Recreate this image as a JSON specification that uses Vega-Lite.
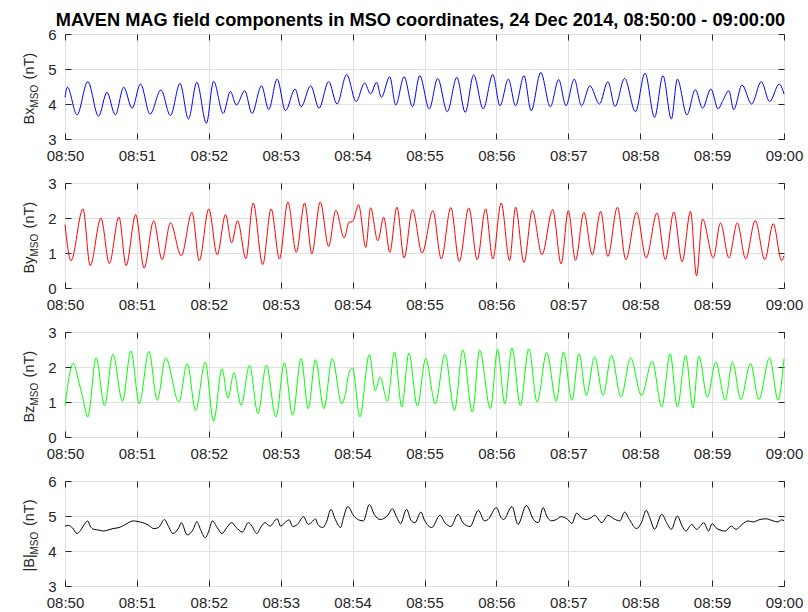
{
  "$schema": "https://vega.github.io/schema/vega-lite/v6.json",
  "background": "#ffffff",
  "padding": {"left": 20, "top": 10, "right": 0, "bottom": 0},
  "spacing": 44,
  "bounds": "flush",
  "config": {
    "font": "Liberation Sans",
    "view": {"stroke": "#262626", "strokeWidth": 1},
    "axis": {
      "labelFont": "Liberation Sans", "labelFontSize": 15, "labelColor": "#262626",
      "titleFont": "Liberation Sans", "titleFontSize": 14.5, "titleFontWeight": "normal", "titleColor": "#262626",
      "tickColor": "#262626", "tickSize": -6, "tickWidth": 1, "labelPadding": 15,
      "gridColor": "#e0e0e0", "gridWidth": 1, "domain": false
    }
  },
  "vconcat": [
    {
      "width": 719, "height": 105,
      "title": {"text": "MAVEN MAG field components in MSO coordinates, 24 Dec 2014, 08:50:00 - 09:00:00", "font": "Liberation Sans", "fontSize": 18.2, "fontWeight": "bold", "color": "#000000", "anchor": "middle", "offset": -3, "dx": -4},
      "layer": [
        {
          "data": {"values": [{"at": "2014-12-24T08:55:00"}]},
          "mark": {"type": "rule", "opacity": 0},
          "encoding": {"x": {"field": "at", "type": "temporal", "scale": {"nice": false}, "axis": {"orient": "top", "labels": false, "grid": false, "title": null, "tickCount": 10}}}
        },
        {
          "data": {"values": [{"level": 4}]},
          "mark": {"type": "rule", "opacity": 0},
          "encoding": {"y": {"field": "level", "type": "quantitative", "scale": {"domain": [3, 6], "nice": false, "zero": false}, "axis": {"orient": "right", "labels": false, "grid": false, "title": null, "values": [3, 4, 5, 6]}}}
        },
        {
          "data": {"values": [{"level": 5}]},
          "mark": {"type": "rule", "opacity": 0},
          "encoding": {"y": {"field": "level", "type": "quantitative", "scale": {"domain": [3, 6], "nice": false, "zero": false}, "axis": {"orient": "left", "labels": false, "ticks": false, "grid": false, "title": "MSO", "titleFontSize": 10, "titleAlign": "left", "titleBaseline": "alphabetic", "titleX": -28, "titleY": 73}}}
        },
        {
          "data": {"values": [
            {"t": "2014-12-24T08:50:00", "v": 4.19}, {"t": "2014-12-24T08:50:02", "v": 4.48}, {"t": "2014-12-24T08:50:10", "v": 3.69}, {"t": "2014-12-24T08:50:19", "v": 4.64},
            {"t": "2014-12-24T08:50:28", "v": 3.65}, {"t": "2014-12-24T08:50:35", "v": 4.33}, {"t": "2014-12-24T08:50:42", "v": 3.69}, {"t": "2014-12-24T08:50:49", "v": 4.48},
            {"t": "2014-12-24T08:50:56", "v": 3.88}, {"t": "2014-12-24T08:51:03", "v": 4.57}, {"t": "2014-12-24T08:51:11", "v": 3.71}, {"t": "2014-12-24T08:51:20", "v": 4.40},
            {"t": "2014-12-24T08:51:28", "v": 3.67}, {"t": "2014-12-24T08:51:36", "v": 4.59}, {"t": "2014-12-24T08:51:43", "v": 3.57}, {"t": "2014-12-24T08:51:50", "v": 4.62},
            {"t": "2014-12-24T08:51:58", "v": 3.45}, {"t": "2014-12-24T08:52:04", "v": 4.65}, {"t": "2014-12-24T08:52:12", "v": 3.73}, {"t": "2014-12-24T08:52:18", "v": 4.36},
            {"t": "2014-12-24T08:52:23", "v": 3.97}, {"t": "2014-12-24T08:52:30", "v": 4.38}, {"t": "2014-12-24T08:52:36", "v": 3.73}, {"t": "2014-12-24T08:52:44", "v": 4.52},
            {"t": "2014-12-24T08:52:50", "v": 3.84}, {"t": "2014-12-24T08:52:57", "v": 4.71}, {"t": "2014-12-24T08:53:04", "v": 3.81}, {"t": "2014-12-24T08:53:12", "v": 4.43},
            {"t": "2014-12-24T08:53:17", "v": 3.92}, {"t": "2014-12-24T08:53:25", "v": 4.52}, {"t": "2014-12-24T08:53:32", "v": 3.88}, {"t": "2014-12-24T08:53:40", "v": 4.64},
            {"t": "2014-12-24T08:53:47", "v": 4.00}, {"t": "2014-12-24T08:53:55", "v": 4.84}, {"t": "2014-12-24T08:54:03", "v": 4.07}, {"t": "2014-12-24T08:54:10", "v": 4.60},
            {"t": "2014-12-24T08:54:15", "v": 4.29}, {"t": "2014-12-24T08:54:20", "v": 4.62}, {"t": "2014-12-24T08:54:24", "v": 4.19}, {"t": "2014-12-24T08:54:31", "v": 4.78},
            {"t": "2014-12-24T08:54:36", "v": 3.97}, {"t": "2014-12-24T08:54:43", "v": 4.78}, {"t": "2014-12-24T08:54:50", "v": 3.92}, {"t": "2014-12-24T08:54:56", "v": 4.81},
            {"t": "2014-12-24T08:55:04", "v": 3.86}, {"t": "2014-12-24T08:55:11", "v": 4.73}, {"t": "2014-12-24T08:55:19", "v": 3.78}, {"t": "2014-12-24T08:55:27", "v": 4.76},
            {"t": "2014-12-24T08:55:34", "v": 3.76}, {"t": "2014-12-24T08:55:41", "v": 4.83}, {"t": "2014-12-24T08:55:49", "v": 3.86}, {"t": "2014-12-24T08:55:57", "v": 4.84},
            {"t": "2014-12-24T08:56:03", "v": 3.95}, {"t": "2014-12-24T08:56:10", "v": 4.71}, {"t": "2014-12-24T08:56:16", "v": 3.95}, {"t": "2014-12-24T08:56:23", "v": 4.81},
            {"t": "2014-12-24T08:56:29", "v": 3.81}, {"t": "2014-12-24T08:56:37", "v": 4.90}, {"t": "2014-12-24T08:56:45", "v": 3.92}, {"t": "2014-12-24T08:56:52", "v": 4.70},
            {"t": "2014-12-24T08:56:58", "v": 3.95}, {"t": "2014-12-24T08:57:05", "v": 4.71}, {"t": "2014-12-24T08:57:11", "v": 3.95}, {"t": "2014-12-24T08:57:18", "v": 4.52},
            {"t": "2014-12-24T08:57:26", "v": 4.00}, {"t": "2014-12-24T08:57:33", "v": 4.64}, {"t": "2014-12-24T08:57:39", "v": 3.93}, {"t": "2014-12-24T08:57:47", "v": 4.73},
            {"t": "2014-12-24T08:57:56", "v": 3.78}, {"t": "2014-12-24T08:58:04", "v": 4.88}, {"t": "2014-12-24T08:58:12", "v": 3.62}, {"t": "2014-12-24T08:58:19", "v": 4.81},
            {"t": "2014-12-24T08:58:26", "v": 3.57}, {"t": "2014-12-24T08:58:31", "v": 4.71}, {"t": "2014-12-24T08:58:39", "v": 3.69}, {"t": "2014-12-24T08:58:46", "v": 4.41},
            {"t": "2014-12-24T08:58:52", "v": 3.88}, {"t": "2014-12-24T08:58:59", "v": 4.43}, {"t": "2014-12-24T08:59:05", "v": 3.86}, {"t": "2014-12-24T08:59:09", "v": 4.10},
            {"t": "2014-12-24T08:59:14", "v": 4.38}, {"t": "2014-12-24T08:59:18", "v": 3.84}, {"t": "2014-12-24T08:59:25", "v": 4.54}, {"t": "2014-12-24T08:59:33", "v": 4.00},
            {"t": "2014-12-24T08:59:41", "v": 4.64}, {"t": "2014-12-24T08:59:48", "v": 4.07}, {"t": "2014-12-24T08:59:56", "v": 4.57}, {"t": "2014-12-24T09:00:00", "v": 4.29}
          ]},
          "mark": {"type": "line", "color": "#0000ff", "strokeWidth": 1, "interpolate": "monotone"},
          "encoding": {
            "x": {"field": "t", "type": "temporal", "scale": {"nice": false}, "axis": {"orient": "bottom", "title": null, "format": "%H:%M", "tickCount": 10, "labelFlush": false, "labelOverlap": false, "grid": true}},
            "y": {"field": "v", "type": "quantitative", "scale": {"domain": [3, 6], "nice": false, "zero": false}, "axis": {"orient": "left", "values": [3, 4, 5, 6], "grid": true, "title": "Bx\u00a0\u00a0\u00a0\u00a0\u00a0\u00a0\u00a0(nT)", "titleAlign": "left", "titleBaseline": "alphabetic", "titleX": -32, "titleY": 90}}
          }
        }
      ],
      "resolve": {"axis": {"x": "independent", "y": "independent"}}
    },
    {
      "width": 719, "height": 105,
      "layer": [
        {
          "data": {"values": [{"at": "2014-12-24T08:55:00"}]},
          "mark": {"type": "rule", "opacity": 0},
          "encoding": {"x": {"field": "at", "type": "temporal", "scale": {"nice": false}, "axis": {"orient": "top", "labels": false, "grid": false, "title": null, "tickCount": 10}}}
        },
        {
          "data": {"values": [{"level": 1}]},
          "mark": {"type": "rule", "opacity": 0},
          "encoding": {"y": {"field": "level", "type": "quantitative", "scale": {"domain": [0, 3], "nice": false}, "axis": {"orient": "right", "labels": false, "grid": false, "title": null, "values": [0, 1, 2, 3]}}}
        },
        {
          "data": {"values": [{"level": 2}]},
          "mark": {"type": "rule", "opacity": 0},
          "encoding": {"y": {"field": "level", "type": "quantitative", "scale": {"domain": [0, 3], "nice": false}, "axis": {"orient": "left", "labels": false, "ticks": false, "grid": false, "title": "MSO", "titleFontSize": 10, "titleAlign": "left", "titleBaseline": "alphabetic", "titleX": -28, "titleY": 73}}}
        },
        {
          "data": {"values": [
            {"t": "2014-12-24T08:50:00", "v": 1.81}, {"t": "2014-12-24T08:50:05", "v": 0.78}, {"t": "2014-12-24T08:50:15", "v": 2.26}, {"t": "2014-12-24T08:50:21", "v": 0.64},
            {"t": "2014-12-24T08:50:30", "v": 2.00}, {"t": "2014-12-24T08:50:37", "v": 0.70}, {"t": "2014-12-24T08:50:45", "v": 2.03}, {"t": "2014-12-24T08:50:51", "v": 0.64},
            {"t": "2014-12-24T08:50:59", "v": 2.10}, {"t": "2014-12-24T08:51:06", "v": 0.57}, {"t": "2014-12-24T08:51:14", "v": 1.92}, {"t": "2014-12-24T08:51:21", "v": 0.81},
            {"t": "2014-12-24T08:51:28", "v": 1.86}, {"t": "2014-12-24T08:51:37", "v": 0.92}, {"t": "2014-12-24T08:51:46", "v": 2.16}, {"t": "2014-12-24T08:51:52", "v": 0.78},
            {"t": "2014-12-24T08:52:00", "v": 2.26}, {"t": "2014-12-24T08:52:07", "v": 0.95}, {"t": "2014-12-24T08:52:14", "v": 2.10}, {"t": "2014-12-24T08:52:19", "v": 1.29},
            {"t": "2014-12-24T08:52:24", "v": 1.92}, {"t": "2014-12-24T08:52:31", "v": 0.84}, {"t": "2014-12-24T08:52:37", "v": 2.43}, {"t": "2014-12-24T08:52:45", "v": 0.67},
            {"t": "2014-12-24T08:52:52", "v": 2.26}, {"t": "2014-12-24T08:52:59", "v": 0.83}, {"t": "2014-12-24T08:53:06", "v": 2.46}, {"t": "2014-12-24T08:53:13", "v": 1.02},
            {"t": "2014-12-24T08:53:20", "v": 2.43}, {"t": "2014-12-24T08:53:26", "v": 0.98}, {"t": "2014-12-24T08:53:33", "v": 2.46}, {"t": "2014-12-24T08:53:40", "v": 1.19},
            {"t": "2014-12-24T08:53:46", "v": 2.22}, {"t": "2014-12-24T08:53:53", "v": 1.43}, {"t": "2014-12-24T08:53:57", "v": 1.88}, {"t": "2014-12-24T08:54:00", "v": 1.90},
            {"t": "2014-12-24T08:54:05", "v": 2.38}, {"t": "2014-12-24T08:54:11", "v": 1.16}, {"t": "2014-12-24T08:54:15", "v": 2.29}, {"t": "2014-12-24T08:54:21", "v": 1.35},
            {"t": "2014-12-24T08:54:26", "v": 2.02}, {"t": "2014-12-24T08:54:31", "v": 1.02}, {"t": "2014-12-24T08:54:37", "v": 2.31}, {"t": "2014-12-24T08:54:43", "v": 0.86},
            {"t": "2014-12-24T08:54:50", "v": 2.24}, {"t": "2014-12-24T08:54:58", "v": 1.00}, {"t": "2014-12-24T08:55:07", "v": 2.21}, {"t": "2014-12-24T08:55:14", "v": 0.83},
            {"t": "2014-12-24T08:55:22", "v": 2.30}, {"t": "2014-12-24T08:55:29", "v": 0.76}, {"t": "2014-12-24T08:55:37", "v": 2.29}, {"t": "2014-12-24T08:55:44", "v": 0.81},
            {"t": "2014-12-24T08:55:51", "v": 2.26}, {"t": "2014-12-24T08:55:57", "v": 0.83}, {"t": "2014-12-24T08:56:04", "v": 2.43}, {"t": "2014-12-24T08:56:11", "v": 0.78},
            {"t": "2014-12-24T08:56:16", "v": 2.31}, {"t": "2014-12-24T08:56:23", "v": 0.73}, {"t": "2014-12-24T08:56:30", "v": 2.22}, {"t": "2014-12-24T08:56:38", "v": 0.95},
            {"t": "2014-12-24T08:56:47", "v": 2.24}, {"t": "2014-12-24T08:56:54", "v": 0.69}, {"t": "2014-12-24T08:57:00", "v": 2.21}, {"t": "2014-12-24T08:57:06", "v": 0.79},
            {"t": "2014-12-24T08:57:13", "v": 2.16}, {"t": "2014-12-24T08:57:20", "v": 0.95}, {"t": "2014-12-24T08:57:27", "v": 2.19}, {"t": "2014-12-24T08:57:33", "v": 0.90},
            {"t": "2014-12-24T08:57:41", "v": 2.31}, {"t": "2014-12-24T08:57:48", "v": 0.81}, {"t": "2014-12-24T08:57:57", "v": 2.16}, {"t": "2014-12-24T08:58:05", "v": 0.86},
            {"t": "2014-12-24T08:58:14", "v": 2.14}, {"t": "2014-12-24T08:58:21", "v": 0.81}, {"t": "2014-12-24T08:58:28", "v": 2.17}, {"t": "2014-12-24T08:58:35", "v": 0.75},
            {"t": "2014-12-24T08:58:42", "v": 2.19}, {"t": "2014-12-24T08:58:47", "v": 0.35}, {"t": "2014-12-24T08:58:52", "v": 1.97}, {"t": "2014-12-24T08:59:01", "v": 0.86},
            {"t": "2014-12-24T08:59:07", "v": 1.86}, {"t": "2014-12-24T08:59:14", "v": 0.86}, {"t": "2014-12-24T08:59:21", "v": 1.86}, {"t": "2014-12-24T08:59:28", "v": 0.83},
            {"t": "2014-12-24T08:59:36", "v": 1.93}, {"t": "2014-12-24T08:59:44", "v": 0.81}, {"t": "2014-12-24T08:59:51", "v": 1.84}, {"t": "2014-12-24T08:59:58", "v": 0.78},
            {"t": "2014-12-24T09:00:00", "v": 0.92}
          ]},
          "mark": {"type": "line", "color": "#ff0000", "strokeWidth": 1, "interpolate": "monotone"},
          "encoding": {
            "x": {"field": "t", "type": "temporal", "scale": {"nice": false}, "axis": {"orient": "bottom", "title": null, "format": "%H:%M", "tickCount": 10, "labelFlush": false, "labelOverlap": false, "grid": true}},
            "y": {"field": "v", "type": "quantitative", "scale": {"domain": [0, 3], "nice": false}, "axis": {"orient": "left", "values": [0, 1, 2, 3], "grid": true, "title": "By\u00a0\u00a0\u00a0\u00a0\u00a0\u00a0\u00a0(nT)", "titleAlign": "left", "titleBaseline": "alphabetic", "titleX": -32, "titleY": 90}}
          }
        }
      ],
      "resolve": {"axis": {"x": "independent", "y": "independent"}}
    },
    {
      "width": 719, "height": 105,
      "layer": [
        {
          "data": {"values": [{"at": "2014-12-24T08:55:00"}]},
          "mark": {"type": "rule", "opacity": 0},
          "encoding": {"x": {"field": "at", "type": "temporal", "scale": {"nice": false}, "axis": {"orient": "top", "labels": false, "grid": false, "title": null, "tickCount": 10}}}
        },
        {
          "data": {"values": [{"level": 1}]},
          "mark": {"type": "rule", "opacity": 0},
          "encoding": {"y": {"field": "level", "type": "quantitative", "scale": {"domain": [0, 3], "nice": false}, "axis": {"orient": "right", "labels": false, "grid": false, "title": null, "values": [0, 1, 2, 3]}}}
        },
        {
          "data": {"values": [{"level": 2}]},
          "mark": {"type": "rule", "opacity": 0},
          "encoding": {"y": {"field": "level", "type": "quantitative", "scale": {"domain": [0, 3], "nice": false}, "axis": {"orient": "left", "labels": false, "ticks": false, "grid": false, "title": "MSO", "titleFontSize": 10, "titleAlign": "left", "titleBaseline": "alphabetic", "titleX": -28, "titleY": 73}}}
        },
        {
          "data": {"values": [
            {"t": "2014-12-24T08:50:00", "v": 0.89}, {"t": "2014-12-24T08:50:07", "v": 2.11}, {"t": "2014-12-24T08:50:11", "v": 1.65}, {"t": "2014-12-24T08:50:15", "v": 1.10},
            {"t": "2014-12-24T08:50:19", "v": 0.57}, {"t": "2014-12-24T08:50:26", "v": 2.26}, {"t": "2014-12-24T08:50:33", "v": 0.90}, {"t": "2014-12-24T08:50:40", "v": 2.36},
            {"t": "2014-12-24T08:50:48", "v": 1.02}, {"t": "2014-12-24T08:50:55", "v": 2.46}, {"t": "2014-12-24T08:51:02", "v": 0.95}, {"t": "2014-12-24T08:51:10", "v": 2.45},
            {"t": "2014-12-24T08:51:17", "v": 1.05}, {"t": "2014-12-24T08:51:24", "v": 2.26}, {"t": "2014-12-24T08:51:35", "v": 1.00}, {"t": "2014-12-24T08:51:42", "v": 2.10},
            {"t": "2014-12-24T08:51:49", "v": 0.76}, {"t": "2014-12-24T08:51:57", "v": 2.14}, {"t": "2014-12-24T08:52:04", "v": 0.45}, {"t": "2014-12-24T08:52:11", "v": 1.95},
            {"t": "2014-12-24T08:52:16", "v": 1.11}, {"t": "2014-12-24T08:52:21", "v": 1.83}, {"t": "2014-12-24T08:52:27", "v": 0.90}, {"t": "2014-12-24T08:52:34", "v": 2.05},
            {"t": "2014-12-24T08:52:41", "v": 0.67}, {"t": "2014-12-24T08:52:48", "v": 2.05}, {"t": "2014-12-24T08:52:56", "v": 0.57}, {"t": "2014-12-24T08:53:03", "v": 2.12},
            {"t": "2014-12-24T08:53:10", "v": 0.62}, {"t": "2014-12-24T08:53:17", "v": 2.24}, {"t": "2014-12-24T08:53:23", "v": 0.81}, {"t": "2014-12-24T08:53:29", "v": 2.21},
            {"t": "2014-12-24T08:53:36", "v": 0.81}, {"t": "2014-12-24T08:53:43", "v": 2.24}, {"t": "2014-12-24T08:53:51", "v": 0.95}, {"t": "2014-12-24T08:53:54", "v": 1.24},
            {"t": "2014-12-24T08:53:57", "v": 1.84}, {"t": "2014-12-24T08:54:00", "v": 1.97}, {"t": "2014-12-24T08:54:06", "v": 0.57}, {"t": "2014-12-24T08:54:14", "v": 2.36},
            {"t": "2014-12-24T08:54:19", "v": 1.33}, {"t": "2014-12-24T08:54:23", "v": 1.71}, {"t": "2014-12-24T08:54:29", "v": 1.02}, {"t": "2014-12-24T08:54:35", "v": 2.43},
            {"t": "2014-12-24T08:54:41", "v": 0.86}, {"t": "2014-12-24T08:54:47", "v": 2.40}, {"t": "2014-12-24T08:54:54", "v": 0.88}, {"t": "2014-12-24T08:55:01", "v": 2.24},
            {"t": "2014-12-24T08:55:09", "v": 0.95}, {"t": "2014-12-24T08:55:17", "v": 2.36}, {"t": "2014-12-24T08:55:25", "v": 0.76}, {"t": "2014-12-24T08:55:32", "v": 2.48},
            {"t": "2014-12-24T08:55:40", "v": 0.71}, {"t": "2014-12-24T08:55:46", "v": 2.48}, {"t": "2014-12-24T08:55:55", "v": 0.81}, {"t": "2014-12-24T08:56:01", "v": 2.50},
            {"t": "2014-12-24T08:56:07", "v": 0.95}, {"t": "2014-12-24T08:56:13", "v": 2.54}, {"t": "2014-12-24T08:56:20", "v": 0.90}, {"t": "2014-12-24T08:56:27", "v": 2.52},
            {"t": "2014-12-24T08:56:34", "v": 1.00}, {"t": "2014-12-24T08:56:42", "v": 2.41}, {"t": "2014-12-24T08:56:50", "v": 1.02}, {"t": "2014-12-24T08:56:56", "v": 2.43},
            {"t": "2014-12-24T08:57:03", "v": 1.05}, {"t": "2014-12-24T08:57:09", "v": 2.38}, {"t": "2014-12-24T08:57:15", "v": 1.19}, {"t": "2014-12-24T08:57:22", "v": 2.29},
            {"t": "2014-12-24T08:57:29", "v": 1.19}, {"t": "2014-12-24T08:57:36", "v": 2.33}, {"t": "2014-12-24T08:57:44", "v": 1.14}, {"t": "2014-12-24T08:57:52", "v": 2.26},
            {"t": "2014-12-24T08:58:01", "v": 1.19}, {"t": "2014-12-24T08:58:10", "v": 2.16}, {"t": "2014-12-24T08:58:18", "v": 0.86}, {"t": "2014-12-24T08:58:25", "v": 2.38},
            {"t": "2014-12-24T08:58:31", "v": 0.86}, {"t": "2014-12-24T08:58:38", "v": 2.33}, {"t": "2014-12-24T08:58:44", "v": 0.84}, {"t": "2014-12-24T08:58:49", "v": 2.31},
            {"t": "2014-12-24T08:58:56", "v": 1.14}, {"t": "2014-12-24T08:59:03", "v": 2.14}, {"t": "2014-12-24T08:59:11", "v": 1.05}, {"t": "2014-12-24T08:59:17", "v": 2.14},
            {"t": "2014-12-24T08:59:24", "v": 1.07}, {"t": "2014-12-24T08:59:32", "v": 2.10}, {"t": "2014-12-24T08:59:39", "v": 1.07}, {"t": "2014-12-24T08:59:48", "v": 2.26},
            {"t": "2014-12-24T08:59:55", "v": 1.05}, {"t": "2014-12-24T09:00:00", "v": 2.24}
          ]},
          "mark": {"type": "line", "color": "#00ff00", "strokeWidth": 1, "interpolate": "monotone"},
          "encoding": {
            "x": {"field": "t", "type": "temporal", "scale": {"nice": false}, "axis": {"orient": "bottom", "title": null, "format": "%H:%M", "tickCount": 10, "labelFlush": false, "labelOverlap": false, "grid": true}},
            "y": {"field": "v", "type": "quantitative", "scale": {"domain": [0, 3], "nice": false}, "axis": {"orient": "left", "values": [0, 1, 2, 3], "grid": true, "title": "Bz\u00a0\u00a0\u00a0\u00a0\u00a0\u00a0\u00a0(nT)", "titleAlign": "left", "titleBaseline": "alphabetic", "titleX": -32, "titleY": 90}}
          }
        }
      ],
      "resolve": {"axis": {"x": "independent", "y": "independent"}}
    },
    {
      "width": 719, "height": 105,
      "layer": [
        {
          "data": {"values": [{"at": "2014-12-24T08:55:00"}]},
          "mark": {"type": "rule", "opacity": 0},
          "encoding": {"x": {"field": "at", "type": "temporal", "scale": {"nice": false}, "axis": {"orient": "top", "labels": false, "grid": false, "title": null, "tickCount": 10}}}
        },
        {
          "data": {"values": [{"level": 4}]},
          "mark": {"type": "rule", "opacity": 0},
          "encoding": {"y": {"field": "level", "type": "quantitative", "scale": {"domain": [3, 6], "nice": false, "zero": false}, "axis": {"orient": "right", "labels": false, "grid": false, "title": null, "values": [3, 4, 5, 6]}}}
        },
        {
          "data": {"values": [{"level": 5}]},
          "mark": {"type": "rule", "opacity": 0},
          "encoding": {"y": {"field": "level", "type": "quantitative", "scale": {"domain": [3, 6], "nice": false, "zero": false}, "axis": {"orient": "left", "labels": false, "ticks": false, "grid": false, "title": "MSO", "titleFontSize": 10, "titleAlign": "left", "titleBaseline": "alphabetic", "titleX": -28, "titleY": 73}}}
        },
        {
          "data": {"values": [
            {"t": "2014-12-24T08:50:00", "v": 4.71}, {"t": "2014-12-24T08:50:03", "v": 4.73}, {"t": "2014-12-24T08:50:06", "v": 4.67}, {"t": "2014-12-24T08:50:10", "v": 4.50},
            {"t": "2014-12-24T08:50:13", "v": 4.59}, {"t": "2014-12-24T08:50:15", "v": 4.70}, {"t": "2014-12-24T08:50:19", "v": 4.86}, {"t": "2014-12-24T08:50:21", "v": 4.71},
            {"t": "2014-12-24T08:50:24", "v": 4.62}, {"t": "2014-12-24T08:50:28", "v": 4.60}, {"t": "2014-12-24T08:50:32", "v": 4.57}, {"t": "2014-12-24T08:50:36", "v": 4.60},
            {"t": "2014-12-24T08:50:40", "v": 4.64}, {"t": "2014-12-24T08:50:45", "v": 4.67}, {"t": "2014-12-24T08:50:49", "v": 4.73}, {"t": "2014-12-24T08:50:53", "v": 4.81},
            {"t": "2014-12-24T08:50:57", "v": 4.86}, {"t": "2014-12-24T08:51:01", "v": 4.84}, {"t": "2014-12-24T08:51:05", "v": 4.81}, {"t": "2014-12-24T08:51:10", "v": 4.73},
            {"t": "2014-12-24T08:51:14", "v": 4.64}, {"t": "2014-12-24T08:51:18", "v": 4.67}, {"t": "2014-12-24T08:51:23", "v": 4.90}, {"t": "2014-12-24T08:51:26", "v": 4.73},
            {"t": "2014-12-24T08:51:30", "v": 4.50}, {"t": "2014-12-24T08:51:35", "v": 4.67}, {"t": "2014-12-24T08:51:37", "v": 4.81}, {"t": "2014-12-24T08:51:42", "v": 4.46},
            {"t": "2014-12-24T08:51:47", "v": 4.62}, {"t": "2014-12-24T08:51:50", "v": 4.84}, {"t": "2014-12-24T08:51:53", "v": 4.62}, {"t": "2014-12-24T08:51:57", "v": 4.38},
            {"t": "2014-12-24T08:52:00", "v": 4.57}, {"t": "2014-12-24T08:52:03", "v": 4.86}, {"t": "2014-12-24T08:52:07", "v": 4.67}, {"t": "2014-12-24T08:52:11", "v": 4.50},
            {"t": "2014-12-24T08:52:15", "v": 4.67}, {"t": "2014-12-24T08:52:19", "v": 4.81}, {"t": "2014-12-24T08:52:23", "v": 4.67}, {"t": "2014-12-24T08:52:28", "v": 4.54},
            {"t": "2014-12-24T08:52:33", "v": 4.81}, {"t": "2014-12-24T08:52:36", "v": 4.71}, {"t": "2014-12-24T08:52:40", "v": 4.50}, {"t": "2014-12-24T08:52:44", "v": 4.71},
            {"t": "2014-12-24T08:52:47", "v": 4.81}, {"t": "2014-12-24T08:52:51", "v": 4.71}, {"t": "2014-12-24T08:52:57", "v": 4.92}, {"t": "2014-12-24T08:53:00", "v": 4.71},
            {"t": "2014-12-24T08:53:04", "v": 4.83}, {"t": "2014-12-24T08:53:07", "v": 4.89}, {"t": "2014-12-24T08:53:10", "v": 4.70}, {"t": "2014-12-24T08:53:14", "v": 4.76},
            {"t": "2014-12-24T08:53:19", "v": 4.98}, {"t": "2014-12-24T08:53:23", "v": 4.76}, {"t": "2014-12-24T08:53:26", "v": 4.83}, {"t": "2014-12-24T08:53:29", "v": 4.92},
            {"t": "2014-12-24T08:53:31", "v": 4.76}, {"t": "2014-12-24T08:53:35", "v": 4.67}, {"t": "2014-12-24T08:53:38", "v": 4.81}, {"t": "2014-12-24T08:53:42", "v": 5.19},
            {"t": "2014-12-24T08:53:45", "v": 4.95}, {"t": "2014-12-24T08:53:50", "v": 4.67}, {"t": "2014-12-24T08:53:52", "v": 4.90}, {"t": "2014-12-24T08:53:56", "v": 5.27},
            {"t": "2014-12-24T08:54:01", "v": 5.00}, {"t": "2014-12-24T08:54:05", "v": 4.89}, {"t": "2014-12-24T08:54:09", "v": 4.86}, {"t": "2014-12-24T08:54:14", "v": 5.33},
            {"t": "2014-12-24T08:54:18", "v": 5.05}, {"t": "2014-12-24T08:54:23", "v": 4.90}, {"t": "2014-12-24T08:54:27", "v": 4.95}, {"t": "2014-12-24T08:54:30", "v": 5.05},
            {"t": "2014-12-24T08:54:33", "v": 5.21}, {"t": "2014-12-24T08:54:37", "v": 4.95}, {"t": "2014-12-24T08:54:40", "v": 4.78}, {"t": "2014-12-24T08:54:45", "v": 5.19},
            {"t": "2014-12-24T08:54:49", "v": 4.86}, {"t": "2014-12-24T08:54:52", "v": 4.81}, {"t": "2014-12-24T08:54:57", "v": 5.11}, {"t": "2014-12-24T08:55:00", "v": 4.88},
            {"t": "2014-12-24T08:55:06", "v": 4.67}, {"t": "2014-12-24T08:55:13", "v": 5.02}, {"t": "2014-12-24T08:55:17", "v": 4.81}, {"t": "2014-12-24T08:55:22", "v": 4.70},
            {"t": "2014-12-24T08:55:28", "v": 5.05}, {"t": "2014-12-24T08:55:32", "v": 4.81}, {"t": "2014-12-24T08:55:38", "v": 4.70}, {"t": "2014-12-24T08:55:45", "v": 5.16},
            {"t": "2014-12-24T08:55:50", "v": 4.86}, {"t": "2014-12-24T08:55:53", "v": 4.90}, {"t": "2014-12-24T08:56:00", "v": 5.24}, {"t": "2014-12-24T08:56:04", "v": 4.95},
            {"t": "2014-12-24T08:56:06", "v": 4.90}, {"t": "2014-12-24T08:56:13", "v": 5.27}, {"t": "2014-12-24T08:56:18", "v": 4.76}, {"t": "2014-12-24T08:56:25", "v": 5.30},
            {"t": "2014-12-24T08:56:31", "v": 4.90}, {"t": "2014-12-24T08:56:35", "v": 4.81}, {"t": "2014-12-24T08:56:39", "v": 5.24}, {"t": "2014-12-24T08:56:42", "v": 5.00},
            {"t": "2014-12-24T08:56:46", "v": 4.86}, {"t": "2014-12-24T08:56:50", "v": 4.90}, {"t": "2014-12-24T08:56:54", "v": 4.98}, {"t": "2014-12-24T08:56:59", "v": 4.92},
            {"t": "2014-12-24T08:57:03", "v": 4.79}, {"t": "2014-12-24T08:57:07", "v": 5.08}, {"t": "2014-12-24T08:57:11", "v": 4.95}, {"t": "2014-12-24T08:57:15", "v": 4.90},
            {"t": "2014-12-24T08:57:19", "v": 4.95}, {"t": "2014-12-24T08:57:22", "v": 5.02}, {"t": "2014-12-24T08:57:28", "v": 4.81}, {"t": "2014-12-24T08:57:33", "v": 5.02},
            {"t": "2014-12-24T08:57:38", "v": 4.92}, {"t": "2014-12-24T08:57:43", "v": 4.86}, {"t": "2014-12-24T08:57:47", "v": 5.11}, {"t": "2014-12-24T08:57:51", "v": 4.90},
            {"t": "2014-12-24T08:57:57", "v": 4.64}, {"t": "2014-12-24T08:58:01", "v": 4.81}, {"t": "2014-12-24T08:58:05", "v": 5.16}, {"t": "2014-12-24T08:58:08", "v": 4.95},
            {"t": "2014-12-24T08:58:12", "v": 4.62}, {"t": "2014-12-24T08:58:18", "v": 5.05}, {"t": "2014-12-24T08:58:22", "v": 4.81}, {"t": "2014-12-24T08:58:26", "v": 4.62},
            {"t": "2014-12-24T08:58:31", "v": 5.00}, {"t": "2014-12-24T08:58:35", "v": 4.71}, {"t": "2014-12-24T08:58:38", "v": 4.57}, {"t": "2014-12-24T08:58:43", "v": 4.76},
            {"t": "2014-12-24T08:58:47", "v": 4.62}, {"t": "2014-12-24T08:58:50", "v": 4.70}, {"t": "2014-12-24T08:58:53", "v": 4.81}, {"t": "2014-12-24T08:58:57", "v": 4.57},
            {"t": "2014-12-24T08:59:00", "v": 4.78}, {"t": "2014-12-24T08:59:04", "v": 4.64}, {"t": "2014-12-24T08:59:11", "v": 4.57}, {"t": "2014-12-24T08:59:16", "v": 4.71},
            {"t": "2014-12-24T08:59:20", "v": 4.62}, {"t": "2014-12-24T08:59:25", "v": 4.76}, {"t": "2014-12-24T08:59:30", "v": 4.86}, {"t": "2014-12-24T08:59:34", "v": 4.83},
            {"t": "2014-12-24T08:59:40", "v": 4.90}, {"t": "2014-12-24T08:59:45", "v": 4.92}, {"t": "2014-12-24T08:59:51", "v": 4.86}, {"t": "2014-12-24T08:59:55", "v": 4.83},
            {"t": "2014-12-24T08:59:58", "v": 4.89}, {"t": "2014-12-24T09:00:00", "v": 4.86}
          ]},
          "mark": {"type": "line", "color": "#000000", "strokeWidth": 1, "interpolate": "monotone"},
          "encoding": {
            "x": {"field": "t", "type": "temporal", "scale": {"nice": false}, "axis": {"orient": "bottom", "title": null, "format": "%H:%M", "tickCount": 10, "labelFlush": false, "labelOverlap": false, "grid": true}},
            "y": {"field": "v", "type": "quantitative", "scale": {"domain": [3, 6], "nice": false, "zero": false}, "axis": {"orient": "left", "values": [3, 4, 5, 6], "grid": true, "title": "|B|\u00a0\u00a0\u00a0\u00a0\u00a0\u00a0\u00a0(nT)", "titleAlign": "left", "titleBaseline": "alphabetic", "titleX": -32, "titleY": 90}}
          }
        }
      ],
      "resolve": {"axis": {"x": "independent", "y": "independent"}}
    }
  ]
}
